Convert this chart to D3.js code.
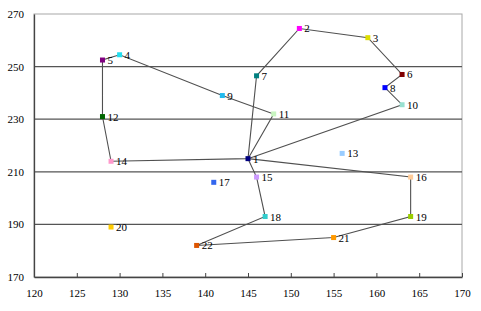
<!DOCTYPE html>
<html>
<head>
  <script src="https://d3js.org/d3.v7.min.js"></script>
  <style>
    body { margin: 0; background: #fff; }
    text { font-family: "Liberation Serif", "Times New Roman", serif; font-size: 11px; fill: #000; }
  </style>
</head>
<body>
<script type="text/javascript">

  var w = 481;
  var h = 311;
  var plotLeft = 34, plotTop = 14, plotRight = 462, plotBottom = 277;

  // node number, x, y
  var ids = [1, 2, 3, 4, 5, 6, 7, 8, 9, 10, 11, 12, 13, 14, 15, 16, 17, 18, 19, 20, 21, 22];
  var xs  = [145, 151, 159, 130, 128, 163, 146, 161, 142, 163, 148, 128, 156, 129, 146, 164, 141, 147, 164, 129, 155, 139];
  var ys  = [215, 264.5, 261, 254.5, 252.5, 247, 246.5, 242, 239, 235.5, 232, 231, 217, 214, 208, 208, 206, 193, 193, 189, 185, 182];
  var colors = ["#000080", "#FF00FF", "#DDDD00", "#22DDEE", "#800080", "#800000", "#008080", "#0000FF",
                "#22BBEE", "#99E0D0", "#C8F5C0", "#006600", "#99CCFF", "#FF99CC", "#CC99FF", "#FFCC99",
                "#3366EE", "#33CCCC", "#99CC00", "#FFCC00", "#FF9900", "#DD5500"];

  // routes out of node 1
  var routes = [
    [1, 7, 2, 3, 6, 8, 10, 1],
    [1, 11, 9, 4, 5, 12, 14, 1],
    [1, 16, 19, 21, 22, 18, 15, 1]
  ];

  var xTicks = [120, 125, 130, 135, 140, 145, 150, 155, 160, 165, 170];
  var yTicks = [170, 190, 210, 230, 250, 270];

  var svg = d3.select("body").append("svg")
          .attr("width", w)
          .attr("height", h);

  var xScale = d3.scaleLinear().domain([120, 170]).range([plotLeft, plotRight]);
  var yScale = d3.scaleLinear().domain([170, 270]).range([plotBottom, plotTop]);

  // plot frame (top/right lighter)
  svg.append("rect")
     .attr("x", plotLeft).attr("y", plotTop)
     .attr("width", plotRight - plotLeft).attr("height", plotBottom - plotTop)
     .attr("fill", "none").attr("stroke", "#a8a8a8").attr("stroke-width", 1);

  // horizontal grid lines
  svg.selectAll("line.grid")
     .data(yTicks.slice(1, -1))
     .enter().append("line")
     .attr("class", "grid")
     .attr("x1", plotLeft).attr("x2", plotRight)
     .attr("y1", function(d){ return yScale(d); })
     .attr("y2", function(d){ return yScale(d); })
     .attr("stroke", "#555").attr("stroke-width", 1.2);

  // axes
  var xAxis = d3.axisBottom(xScale).tickValues(xTicks).tickSizeInner(-4).tickSizeOuter(0).tickPadding(12);
  var gx = svg.append("g").attr("transform", "translate(0," + plotBottom + ")").call(xAxis);
  gx.select(".domain").attr("stroke", "#444").attr("stroke-width", 1.3);
  gx.selectAll(".tick line").attr("stroke", "#444");
  gx.selectAll("text").style("font-family", "Liberation Serif").style("font-size", "11px");

  var yAxis = d3.axisLeft(yScale).tickValues(yTicks).tickSize(0).tickPadding(10);
  var gy = svg.append("g").attr("transform", "translate(" + plotLeft + ",0)").call(yAxis);
  gy.select(".domain").attr("stroke", "#444").attr("stroke-width", 1.3);
  gy.selectAll("text").style("font-family", "Liberation Serif").style("font-size", "11px");

  // route lines
  var line = d3.line()
     .x(function(n){ return xScale(xs[n - 1]); })
     .y(function(n){ return yScale(ys[n - 1]); });

  svg.selectAll("path.route")
     .data(routes)
     .enter().append("path")
     .attr("class", "route")
     .attr("d", line)
     .attr("fill", "none")
     .attr("stroke", "#505050")
     .attr("stroke-width", 1.1);

  // markers
  svg.selectAll("rect.pt")
     .data(ids)
     .enter().append("rect")
     .attr("class", "pt")
     .attr("x", function(d, i){ return xScale(xs[i]) - 2.5; })
     .attr("y", function(d, i){ return yScale(ys[i]) - 2.5; })
     .attr("width", 5).attr("height", 5)
     .attr("fill", function(d, i){ return colors[i]; });

  // labels
  svg.selectAll("text.lbl")
     .data(ids)
     .enter().append("text")
     .attr("class", "lbl")
     .attr("x", function(d, i){ return xScale(xs[i]) + 5; })
     .attr("y", function(d, i){ return yScale(ys[i]) + 4; })
     .text(function(d){ return d; });

</script>
</body>
</html>
